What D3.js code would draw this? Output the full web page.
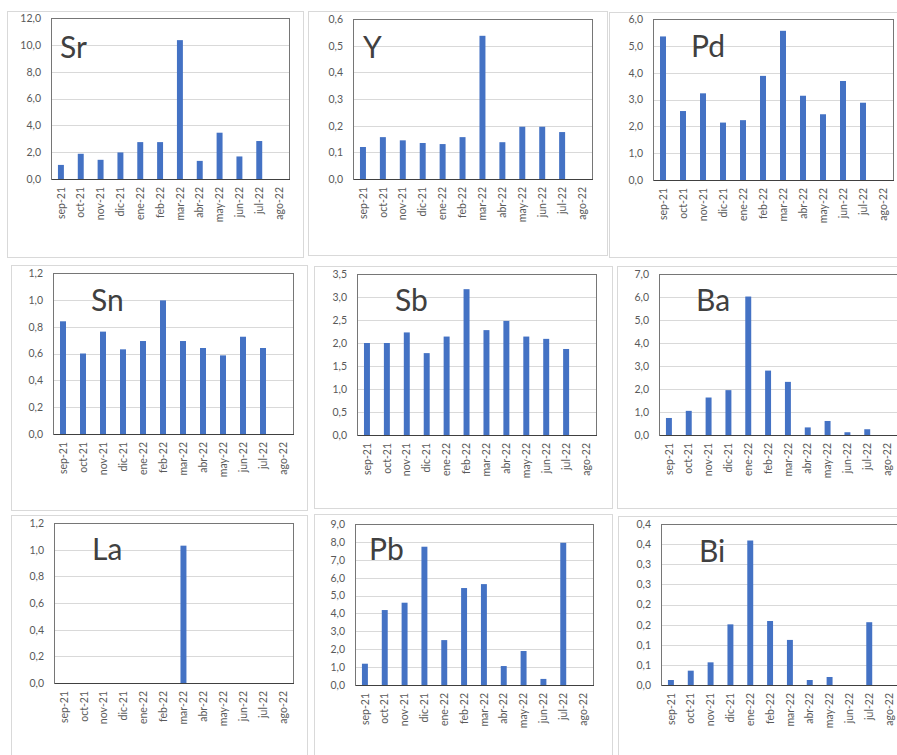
<!DOCTYPE html>
<html>
<head>
<meta charset="utf-8">
<script src="https://cdn.jsdelivr.net/npm/d3@7"></script>
<style>
  html, body { margin: 0; padding: 0; background: #ffffff; }
  svg { display: block; }
  text { font-family: Lato, "Open Sans", "DejaVu Sans", sans-serif; }
</style>
</head>
<body>
<svg id="chart" width="897" height="755"></svg>
<script>
// ---------- data ----------
const months = ["sep-21","oct-21","nov-21","dic-21","ene-22","feb-22","mar-22","abr-22","may-22","jun-22","jul-22","ago-22"];
const elements = ["Sr","Y","Pd","Sn","Sb","Ba","La","Pb","Bi"];

const Sr = [1.05, 1.88, 1.43, 1.98, 2.75, 2.75, 10.35, 1.35, 3.45, 1.68, 2.83, null];
const Y  = [0.120, 0.157, 0.145, 0.135, 0.131, 0.157, 0.537, 0.138, 0.196, 0.196, 0.176, null];
const Pd = [5.35, 2.57, 3.23, 2.14, 2.23, 3.88, 5.56, 3.14, 2.45, 3.69, 2.88, null];
const Sn = [0.84, 0.60, 0.763, 0.631, 0.693, 0.996, 0.693, 0.641, 0.586, 0.725, 0.641, null];
const Sb = [2.00, 2.00, 2.23, 1.78, 2.14, 3.17, 2.28, 2.48, 2.14, 2.09, 1.87, null];
const Ba = [0.74, 1.05, 1.63, 1.95, 6.02, 2.80, 2.31, 0.33, 0.61, 0.12, 0.25, null];
const La = [null, null, null, null, null, null, 1.03, null, null, null, null, null];
const Pb = [1.19, 4.19, 4.60, 7.73, 2.51, 5.42, 5.64, 1.06, 1.90, 0.34, 7.95, null];
const Bi = [0.0124, 0.0356, 0.0563, 0.1507, 0.359, 0.159, 0.112, 0.0124, 0.0199, null, 0.156, null];

const series = [Sr, Y, Pd, Sn, Sb, Ba, La, Pb, Bi];

// y-axis tick definitions (max and step per element)
const yMax  = [12, 0.6, 6, 1.2, 3.5, 7, 1.2, 9, 0.4];
const yStep = [2, 0.1, 1, 0.2, 0.5, 1, 0.2, 1, 0.05];

// ---------- layout ----------
const cards = [
  [7, 11, 296, 246], [308, 11, 299, 244], [609, 12, 300, 245],
  [11, 265, 296, 245], [314, 266, 298, 242], [617, 266, 300, 242],
  [11, 515, 296, 260], [314, 514, 298, 260], [618, 516, 300, 260]
];
const plots = [
  [51, 18, 289, 179], [353, 19, 592, 179], [653, 19, 893, 180],
  [53, 273, 293, 434], [357, 274, 596, 435], [659, 274, 897, 435],
  [54, 523, 293, 683], [355, 524, 593, 685], [661, 524, 899, 685]
];
const titlePos = [
  [60, 58], [363, 58], [691, 57],
  [91, 311], [395, 311], [696, 311],
  [92, 560], [369, 560], [699, 562]
];

const locale = d3.formatLocale({decimal: ",", thousands: ".", grouping: [3], currency: ["", "€"]});
const f1 = locale.format(".1f");
const fmt = v => f1(Math.round(v * 10 + 1e-6) / 10);

const svg = d3.select("#chart");

elements.forEach((name, i) => {
  const [cx, cy, cw, ch] = cards[i];
  const [L, T, R, B] = plots[i];
  const vals = series[i];

  const g = svg.append("g");

  g.append("rect")
    .attr("x", cx + 0.5).attr("y", cy + 0.5)
    .attr("width", cw).attr("height", ch)
    .attr("fill", "#ffffff")
    .attr("stroke", "#d9d9d9").attr("stroke-width", 1);

  const x = d3.scaleBand().domain(months).range([L, R]).paddingInner(0.7).paddingOuter(0.35);
  const y = d3.scaleLinear().domain([0, yMax[i]]).range([B, T]);
  const ticks = d3.range(0, yMax[i] + yStep[i] / 2, yStep[i]);

  // gridlines
  const grid = g.append("g").attr("transform", `translate(${L},0)`)
    .call(d3.axisLeft(y).tickValues(ticks).tickSize(-(R - L)).tickFormat(""));
  grid.select(".domain").remove();
  grid.selectAll("line").attr("stroke", "#d9d9d9").attr("shape-rendering", "crispEdges");

  // title
  g.append("text")
    .attr("x", titlePos[i][0]).attr("y", titlePos[i][1])
    .attr("font-size", 30).attr("fill", "#404040")
    .text(name);

  // bars
  g.append("g").selectAll("rect")
    .data(months.map((m, k) => ({m, v: vals[k]})).filter(d => d.v != null))
    .join("rect")
    .attr("x", d => x(d.m))
    .attr("width", x.bandwidth())
    .attr("y", d => y(d.v))
    .attr("height", d => y(0) - y(d.v))
    .attr("fill", "#4472C4");

  // plot frame
  g.append("rect")
    .attr("x", L + 0.5).attr("y", T + 0.5)
    .attr("width", R - L).attr("height", B - T)
    .attr("fill", "none").attr("stroke", "#767676").attr("stroke-width", 1);

  // y axis labels
  const ya = g.append("g").attr("transform", `translate(${L},0)`)
    .call(d3.axisLeft(y).tickValues(ticks).tickSize(0).tickPadding(10).tickFormat(fmt));
  ya.select(".domain").remove();
  ya.selectAll("text").attr("fill", "#595959").attr("font-size", 10.5)
    .style("font-family", "Lato, 'Open Sans', sans-serif");

  // x axis
  const xa = g.append("g").attr("transform", `translate(0,${B})`)
    .call(d3.axisBottom(x).tickSize(0));
  xa.select(".domain").attr("stroke", "#404040").attr("shape-rendering", "crispEdges");
  xa.selectAll("text")
    .attr("fill", "#595959").attr("font-size", 10.5)
    .style("font-family", "Lato, 'Open Sans', sans-serif")
    .attr("text-anchor", "end")
    .attr("transform", "rotate(-90)")
    .attr("x", -8).attr("y", 0).attr("dy", "0.35em");
});
</script>
</body>
</html>
